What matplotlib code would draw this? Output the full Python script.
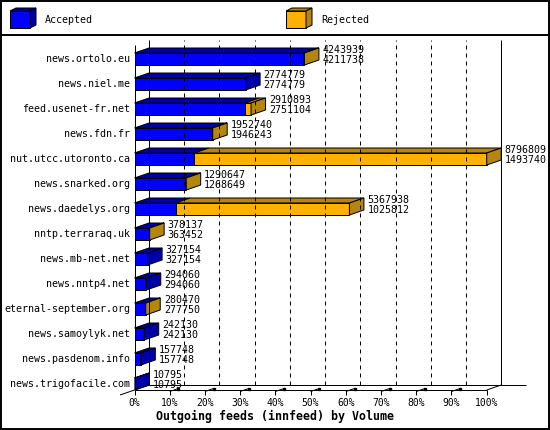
import numpy as np
import matplotlib
matplotlib.use('Agg')
import matplotlib.pyplot as plt
from matplotlib.patches import Polygon, Rectangle

hosts = ['news.ortolo.eu', 'news.niel.me', 'feed.usenet-fr.net', 'news.fdn.fr',
         'nut.utcc.utoronto.ca', 'news.snarked.org', 'news.daedelys.org',
         'nntp.terraraq.uk', 'news.mb-net.net', 'news.nntp4.net',
         'eternal-september.org', 'news.samoylyk.net', 'news.pasdenom.info',
         'news.trigofacile.com']
offered = [4243939, 2774779, 2910893, 1952740, 8796809, 1290647, 5367938,
           378137, 327154, 294060, 280470, 242130, 157748, 10795]
accepted = [4211738, 2774779, 2751104, 1946243, 1493740, 1268649, 1025812,
            363452, 327154, 294060, 277750, 242130, 157748, 10795]
ticks = list(range(0, 101, 10))
tick_labels = [f'{t}%' for t in ticks]

BLUE, DBLUE = '#0000ff', '#0000aa'
ORANGE, DORANGE = '#ffb000', '#b5860e'
MONO = 'DejaVu Sans Mono'
LW = 0.72

fig = plt.figure(figsize=(5.5, 4.3), dpi=100, facecolor='white')

# main axes: x in percent, y in category index (front plane)
x0px, x1px, ytop_px, ybot_px = 134.5, 486.7, 45, 390
ax = fig.add_axes([x0px / 550, (430 - ybot_px) / 430,
                   (x1px - x0px) / 550, (ybot_px - ytop_px) / 430])
ybase = (ybot_px - 59) / 25
ytop = (ytop_px - 59) / 25
ax.set_xlim(0, 100)
ax.set_ylim(ybase, ytop)
ax.axis('off')

dx = 14.5 / ((x1px - x0px) / 100)   # depth in percent units
dy = -0.2                           # depth in row units
h = 0.48

def line(xs, ys, **kw):
    ax.plot(xs, ys, color='black', lw=LW, clip_on=False, solid_capstyle='butt', **kw)

# back wall + floor
for t in ticks[1:-1]:
    line([t + dx, t + dx], [ybase + dy, ytop + dy], ls=(0, (4, 4)))
line([dx, dx], [ybase + dy, ytop + dy])
line([100 + dx, 100 + dx], [ybase + dy, ytop + dy])
line([dx, 111.2], [ybase + dy, ybase + dy])
line([0, 0], [ybase, ytop])
line([0, 100], [ybase, ybase])
line([100, 100 + dx], [ybase, ybase + dy])
line([0, dx], [ybase, ybase + dy])
line([0, -dx], [ybase, ybase - dy])

for t, lab in zip(ticks, tick_labels):
    line([t, t], [ybase, ybase + 0.2])
    if 10 <= t <= 90:
        line([t, t + 0.6 * dx], [ybase + 0.06, ybase + 0.06 + 0.6 * dy])
        ax.plot([t + 0.6 * dx], [ybase + 0.06 + 0.6 * dy], 's', ms=1.6,
                color='black', clip_on=False)
    ax.text(t, ybase + 0.52, lab, ha='center', va='center', fontsize=7,
            family=MONO)

vmax = max(offered)
for i, (name, tot, acc) in enumerate(zip(hosts, offered, accepted)):
    segs = [(acc / vmax * 100, BLUE, DBLUE), ((tot - acc) / vmax * 100, ORANGE, DORANGE)]
    yt, yb = i - h / 2, i + h / 2
    start = 0
    side = DBLUE
    for w, c, dc in segs:
        if w <= 0:
            continue
        end = start + w
        ax.add_patch(Rectangle((start, yt), w, h, facecolor=c, edgecolor='black',
                               lw=LW, clip_on=False))
        ax.add_patch(Polygon([(start, yt), (end, yt), (end + dx, yt + dy),
                              (start + dx, yt + dy)], closed=True, facecolor=dc,
                             edgecolor='black', lw=LW, clip_on=False))
        side = dc
        start = end
    ax.add_patch(Polygon([(start, yt), (start + dx, yt + dy), (start + dx, yb + dy),
                          (start, yb)], closed=True, facecolor=side,
                         edgecolor='black', lw=LW, clip_on=False))
    ax.text(-1.28, i, name, ha='right', va='center', fontsize=7.2, family=MONO)
    ax.text(start + dx + 1.0, i - 0.34, str(tot), ha='left', va='center',
            fontsize=7.2, family=MONO)
    ax.text(start + dx + 1.0, i + 0.06, str(acc), ha='left', va='center',
            fontsize=7.2, family=MONO)

# overlay in pixel units: frame, legend, title
ov = fig.add_axes([0, 0, 1, 1])
ov.set_xlim(0, 550)
ov.set_ylim(430, 0)
ov.axis('off')
ov.patch.set_alpha(0)
ov.add_patch(Rectangle((0.5, 0.5), 548.5, 428, fill=False, edgecolor='black', lw=1.4))
ov.plot([0, 550], [35, 35], color='black', lw=1.4)

for x, c, dc, lab in [(10, BLUE, DBLUE, 'Accepted'), (286, ORANGE, DORANGE, 'Rejected')]:
    ov.add_patch(Rectangle((x, 11), 20, 17, facecolor=c, edgecolor='black', lw=LW))
    ov.add_patch(Polygon([(x, 11), (x + 20, 11), (x + 26, 8), (x + 6, 8)],
                         facecolor=dc, edgecolor='black', lw=LW))
    ov.add_patch(Polygon([(x + 20, 11), (x + 26, 8), (x + 26, 25), (x + 20, 28)],
                         facecolor=dc, edgecolor='black', lw=LW))
    ov.text(x + 35, 20, lab, ha='left', va='center', fontsize=7.2, family=MONO)

ov.text(274.5, 416.5, 'Outgoing feeds (innfeed) by Volume', ha='center', va='center',
        fontsize=8.4, family=MONO, fontweight='bold')

fig.savefig('out.png', dpi=100, facecolor='white')
